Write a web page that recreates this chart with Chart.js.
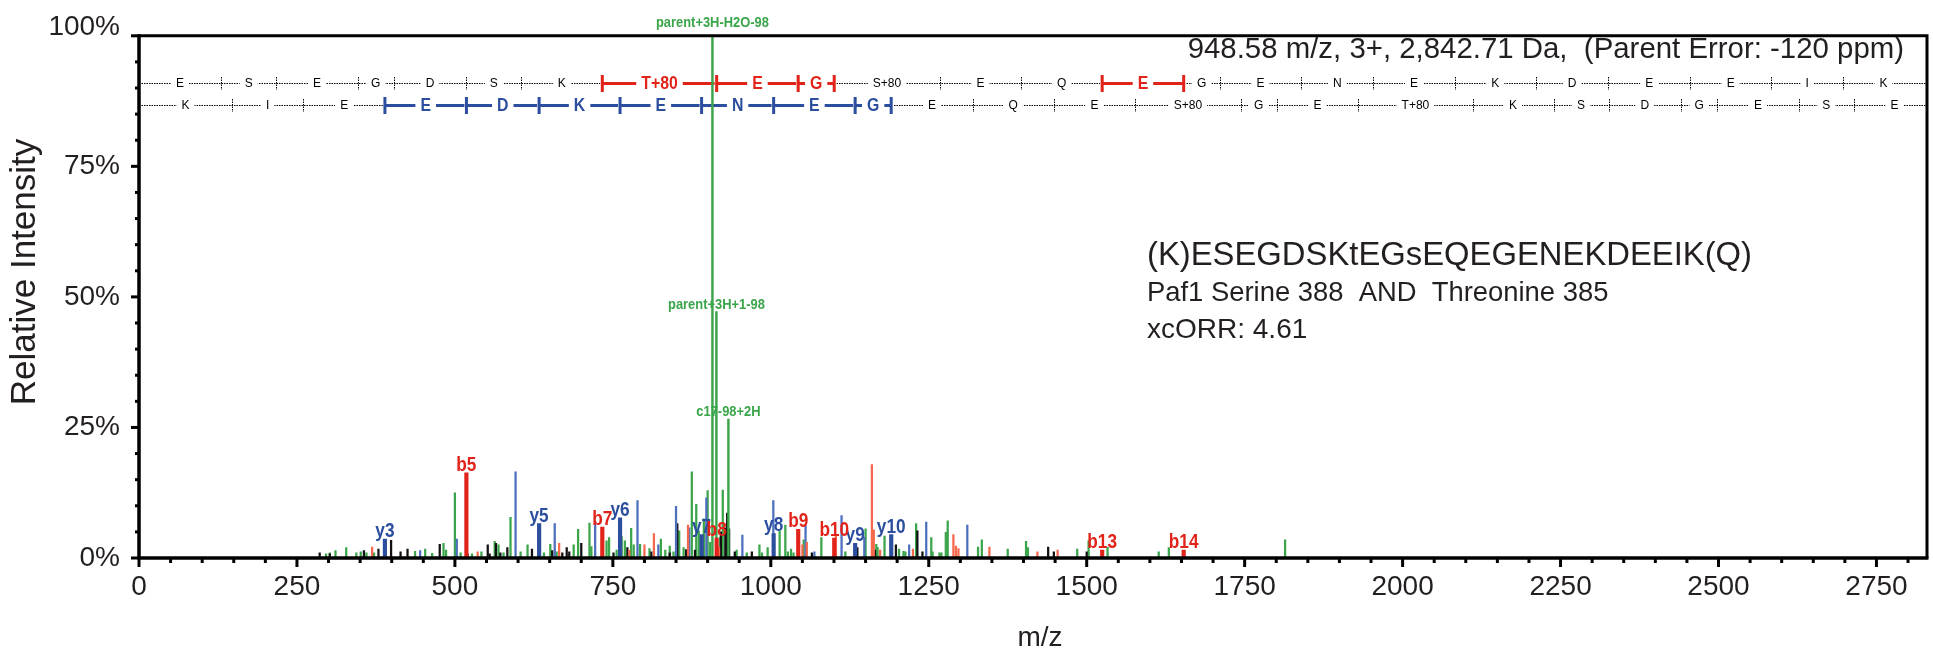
<!DOCTYPE html>
<html><head><meta charset="utf-8">
<script src="https://cdn.jsdelivr.net/npm/chart.js@4.4.1/dist/chart.umd.min.js"></script>
<style>html,body{margin:0;padding:0;background:#fff}#wrap{width:1933px;height:654px}</style>
</head><body><div id="wrap"><canvas id="c" width="1933" height="654"></canvas></div>
<script>
// ---------------- data ----------------
const xTickValues = [0,250,500,750,1000,1250,1500,1750,2000,2250,2500,2750];
const yTickValues = [0,25,50,75,100];
const xTitle = 'm/z';
const yTitle = 'Relative Intensity';

const greenMz  = [296,302,311,328,344,351,360,372,437,453,464,482,486,500,509,527,542,563,569,577,588,604,615,641,651,661,688,695,713,716,740,744,756,764,769,779,783,793,808,826,833,840,846,855,862,875,882,886,894,900,904,920,924,946,962,982,986,995,1014,1023,1027,1032,1036,1044,1052,1080,1118,1150,1167,1169,1180,1203,1210,1213,1230,1254,1256,1267,1270,1277,1280,1328,1334,1375,1404,1407,1485,1503,1533,1614,1630,1814];
const greenInt = [0.8,1.0,1.4,2.0,1.0,1.2,1.0,1.0,1.3,1.7,0.9,2.8,1.5,12.5,1.0,0.8,1.2,3.2,2.5,1.0,7.8,1.2,2.5,1.0,2.6,1.2,2.5,5.5,6.7,2.2,3.3,3.9,1.5,4.1,3.3,5.7,2.5,2.6,1.8,3.6,1.5,2.3,1.2,5.2,2.0,16.5,10.3,5.2,7.5,12.9,3.0,4.0,13.0,1.5,1.0,2.5,1.0,2.0,5.2,6.3,1.2,1.7,1.0,2.1,3.5,3.9,1.2,5.6,2.6,2.0,4.2,1.7,1.3,1.2,6.6,3.9,1.2,1.0,1.0,4.9,7.1,2.1,3.5,1.7,3.2,2.0,1.7,3.3,2.1,1.2,2.0,3.5];

const blackMz  = [286,302,356,379,399,414,425,476,520,552,555,565,572,583,622,654,670,677,681,700,751,773,811,840,852,866,880,921,928,931,934,943,970,1065,1137,1165,1198,1232,1240,1439,1448,1500];
const blackInt = [1.0,0.8,1.4,1.7,3.4,1.2,1.7,2.6,0.8,2.5,0.8,2.8,1.0,2.0,1.7,1.4,1.0,2.0,1.2,2.8,1.0,2.0,1.2,1.0,6.6,1.6,1.5,5.0,5.8,8.6,5.6,1.2,1.2,1.0,2.0,1.5,2.5,5.2,1.2,2.1,1.2,1.2];

const blueMz   = [445,503,596,658,722,789,822,850,871,898,955,1004,1055,1069,1112,1148,1219,1246,1311];
const blueInt  = [1.4,3.6,16.5,6.6,7.0,11.0,2.5,9.9,5.8,11.5,4.4,11.0,6.2,1.2,8.1,4.0,2.5,6.9,6.3];

const salmonMz  = [369,536,665,776,800,815,869,918,1050,1057,1103,1160,1163,1173,1225,1289,1293,1297,1346,1422,1454];
const salmonInt = [2.1,1.2,2.8,1.5,2.5,4.7,6.3,2.1,2.5,3.0,4.3,17.9,5.4,1.5,1.7,4.5,2.3,1.8,2.1,1.2,1.5];

const bIonLabels = ['b5','b7','b8','b9','b10','b13','b14'];
const bIonMz     = [518.2,733.3,914.3,1043.4,1100.4,1524.5,1653.5];
const bIonInt    = [16.3,5.9,3.8,5.5,3.8,1.5,1.5];

const yIonLabels = ['y3','y5','y6','y7','y8','y9','y10'];
const yIonMz     = [389.2,633.3,761.4,890.5,1004.5,1133.5,1190.6];
const yIonInt    = [3.6,6.6,7.7,4.5,4.7,2.8,4.5];

const annotLabels = ['parent+3H-H2O-98','parent+3H+1-98','c17-98+2H'];
const annotMz     = [907.6,913.9,932.9];
const annotInt    = [100,47.2,26.6];

// fragment ladders (sequence coverage)
const bLadderResidues = ['E','S','E','G','D','S','K','T+80','E','G','S+80','E','Q','E','G','E','N','E','K','D','E','E','I','K'];
const bLadderEdges = [0,130.05,217.08,346.12,403.14,518.17,605.20,733.30,914.31,1043.35,1100.37,1267.37,1396.41,1524.47,1653.51,1710.54,1839.58,1953.62,2082.66,2210.76,2325.79,2454.83,2583.87,2696.96,2825.05];
const bLadderMatched = [7,8,9,13];

const yLadderResidues = ['K','I','E','E','D','K','E','N','E','G','E','Q','E','S+80','G','E','T+80','K','S','D','G','E','S','E'];
const yLadderEdges = [0,147.11,260.20,389.24,518.28,633.31,761.40,890.45,1004.49,1133.53,1190.55,1319.60,1447.65,1576.70,1743.69,1800.72,1929.76,2110.77,2238.87,2325.90,2440.93,2497.95,2626.99,2714.02,2843.07];
const yLadderMatched = [3,4,5,6,7,8,9];

const headerText = '948.58 m/z, 3+, 2,842.71 Da,  (Parent Error: -120 ppm)';
const infoLines = ['(K)ESEGDSKtEGsEQEGENEKDEEIK(Q)','Paf1 Serine 388  AND  Threonine 385','xcORR: 4.61'];

// ---------------- styling ----------------
const FONT = '"Liberation Sans", Arial, Helvetica, sans-serif';
const TXT = '#231f20';
const GREEN = '#3aa54a', BLACK = '#111111', BLUE_L = '#4d6fbe', SALMON = '#f4694e';
const RED = '#e2231a', BLUE = '#2c4e9f';
const ROW_LEVELS = [91, 86.7];          // ladder rows, in % of the y scale
const ANNOT_LIFT = [9, 3, 3];           // px gap between peak top and its label

function pts(mz, it){ return mz.map((m,i)=>({x:m,y:it[i]})); }
function ds(label, mz, it, color, w){
  return {label, data:pts(mz,it), backgroundColor:color, borderWidth:0, barThickness:w, grouped:false};
}

function condText(ctx, t, x, y, sx){
  ctx.save(); ctx.translate(x,y); ctx.scale(sx,1); ctx.fillText(t,0,0); ctx.restore();
}

function drawRow(ctx, a, xs, py, res, edges, matched, col){
  ctx.save();
  ctx.beginPath(); ctx.rect(a.left, 0, a.right-a.left, a.bottom); ctx.clip();
  ctx.strokeStyle = '#000'; ctx.lineWidth = 1;
  ctx.setLineDash([1.5,1]);
  ctx.beginPath(); ctx.moveTo(a.left, py+0.5); ctx.lineTo(a.right, py+0.5); ctx.stroke();
  for (let i=1;i<edges.length-1;i++){
    const px = Math.round(xs.getPixelForValue(edges[i]))+0.5;
    ctx.beginPath(); ctx.moveTo(px, py-6); ctx.lineTo(px, py+7); ctx.stroke();
  }
  ctx.setLineDash([]);
  matched.forEach(i=>{
    const x1 = xs.getPixelForValue(edges[i]), x2 = xs.getPixelForValue(edges[i+1]);
    ctx.fillStyle = '#fff'; ctx.fillRect(x1-2, py-9, x2-x1+4, 19);
    ctx.strokeStyle = col; ctx.lineWidth = 3;
    ctx.beginPath(); ctx.moveTo(x1, py+0.5); ctx.lineTo(x2, py+0.5); ctx.stroke();
    [x1,x2].forEach(px=>{ ctx.beginPath(); ctx.moveTo(px, py-8); ctx.lineTo(px, py+9); ctx.stroke(); });
  });
  ctx.textAlign = 'center'; ctx.textBaseline = 'middle';
  res.forEach((r,i)=>{
    const cx = xs.getPixelForValue((edges[i]+edges[i+1])/2);
    if (matched.includes(i)){
      ctx.font = 'bold 18px ' + FONT;
      const w = ctx.measureText(r).width*0.88;
      ctx.fillStyle = '#fff'; ctx.fillRect(cx-w/2-5, py-9, w+10, 19);
      ctx.fillStyle = col; condText(ctx, r, cx, py+1, 0.88);
    } else {
      ctx.font = '12px ' + FONT;
      const w = ctx.measureText(r).width;
      ctx.fillStyle = '#fff'; ctx.fillRect(cx-w/2-5, py-6, w+10, 13);
      ctx.fillStyle = '#000'; ctx.fillText(r, cx, py+1);
    }
  });
  ctx.restore();
}

const ladderPlugin = {
  id:'ladder',
  beforeDatasetsDraw(chart){
    const {ctx, chartArea:a, scales:{x,y}} = chart;
    drawRow(ctx, a, x, Math.round(y.getPixelForValue(ROW_LEVELS[0])), bLadderResidues, bLadderEdges, bLadderMatched, RED);
    drawRow(ctx, a, x, Math.round(y.getPixelForValue(ROW_LEVELS[1])), yLadderResidues, yLadderEdges, yLadderMatched, BLUE);
  }
};

const labelPlugin = {
  id:'labels',
  afterDatasetsDraw(chart){
    const {ctx, chartArea:a, scales:{x,y}} = chart;
    ctx.save();
    ctx.textAlign = 'center'; ctx.textBaseline = 'alphabetic';
    ctx.font = 'bold 21px ' + FONT;
    ctx.fillStyle = BLUE;
    yIonLabels.forEach((l,i)=> condText(ctx, l, x.getPixelForValue(yIonMz[i]), y.getPixelForValue(yIonInt[i])-2, 0.82));
    ctx.fillStyle = RED;
    bIonLabels.forEach((l,i)=> condText(ctx, l, x.getPixelForValue(bIonMz[i]), y.getPixelForValue(bIonInt[i])-2, 0.82));
    ctx.font = 'bold 15px ' + FONT;
    ctx.fillStyle = GREEN;
    annotLabels.forEach((l,i)=> condText(ctx, l, x.getPixelForValue(annotMz[i]), y.getPixelForValue(annotInt[i])-ANNOT_LIFT[i], 0.86));
    // header & info text
    ctx.fillStyle = TXT;
    ctx.textBaseline = 'middle';
    ctx.textAlign = 'right';
    ctx.font = '29.4px ' + FONT;
    ctx.fillText(headerText, 1904, 50);
    ctx.textAlign = 'left';
    ctx.font = '32.8px ' + FONT;
    ctx.fillText(infoLines[0], 1147, 256);
    ctx.font = '27.4px ' + FONT;
    ctx.fillText(infoLines[1], 1147, 293);
    ctx.font = '28px ' + FONT;
    ctx.fillText(infoLines[2], 1147, 330);
    // top tick label sits just above the frame
    ctx.textAlign = 'right'; ctx.textBaseline = 'middle';
    ctx.fillText(yTickValues[yTickValues.length-1] + '%', a.left - 19, y.getPixelForValue(100) - 9);
    // axis titles
    ctx.textAlign = 'center'; ctx.textBaseline = 'alphabetic';
    ctx.font = '28px ' + FONT;
    ctx.fillText(xTitle, 1040, 646);
    ctx.save();
    ctx.translate(35, 272); ctx.rotate(-Math.PI/2);
    ctx.font = '35px ' + FONT;
    ctx.fillText(yTitle, 0, 0);
    ctx.restore();
    ctx.restore();
  }
};

const axisPlugin = {
  id:'axes',
  afterDraw(chart){
    const {ctx, chartArea:a, scales:{x,y}} = chart;
    ctx.save();
    ctx.strokeStyle = '#000'; ctx.lineCap = 'butt';
    ctx.lineWidth = 3;
    for (let v=0; v<=x.max; v+=50){
      const px = x.getPixelForValue(v), len = (v%250===0)?9:5;
      ctx.beginPath(); ctx.moveTo(px, a.bottom); ctx.lineTo(px, a.bottom+len); ctx.stroke();
    }
    for (let v=0; v<=100; v+=5){
      const py = y.getPixelForValue(v), len = (v%25===0)?8:4;
      ctx.beginPath(); ctx.moveTo(a.left, py); ctx.lineTo(a.left-len, py); ctx.stroke();
    }
    ctx.lineWidth = 3;
    ctx.beginPath(); ctx.moveTo(a.left, a.top); ctx.lineTo(a.right, a.top); ctx.lineTo(a.right, a.bottom); ctx.stroke();
    ctx.lineWidth = 3.5;
    ctx.beginPath(); ctx.moveTo(a.left-1.5, a.bottom); ctx.lineTo(a.right+1.5, a.bottom); ctx.stroke();
    ctx.beginPath(); ctx.moveTo(a.left, a.top-1.5); ctx.lineTo(a.left, a.bottom); ctx.stroke();
    ctx.restore();
  }
};

new Chart(document.getElementById('c').getContext('2d'), {
  type:'bar',
  data:{datasets:[
    ds('y ions', yIonMz, yIonInt, BLUE, 3.5),
    ds('b ions', bIonMz, bIonInt, RED, 3.5),
    ds('annotated', annotMz, annotInt, GREEN, 1.8),
    ds('other red', salmonMz, salmonInt, SALMON, 1.6),
    ds('other blue', blueMz, blueInt, BLUE_L, 1.6),
    ds('unassigned', blackMz, blackInt, BLACK, 1.6),
    ds('neutral loss', greenMz, greenInt, GREEN, 1.6)
  ]},
  options:{
    responsive:false, animation:false, devicePixelRatio:1,
    layout:{padding:{top:29,right:6,left:0,bottom:0}},
    plugins:{legend:{display:false}, tooltip:{enabled:false}},
    scales:{
      x:{type:'linear', min:0, max:2830, offset:false,
        grid:{display:false, drawTicks:false}, border:{display:false},
        afterBuildTicks(s){ s.ticks = xTickValues.map(v=>({value:v})); },
        ticks:{autoSkip:false, maxRotation:0, minRotation:0, padding:12, color:TXT, font:{family:FONT,size:28}, callback:v=>String(v)},
        title:{display:false, text:xTitle},
        afterFit(s){ s.height = 96; }
      },
      y:{min:0, max:100,
        grid:{display:false, drawTicks:false}, border:{display:false},
        afterBuildTicks(s){ s.ticks = yTickValues.map(v=>({value:v})); },
        ticks:{padding:19, color:TXT, font:{family:FONT,size:28}, callback:v=> v===100 ? '' : v+'%'},
        title:{display:false, text:yTitle},
        afterFit(s){ s.width = 139; }
      }
    }
  },
  plugins:[ladderPlugin, labelPlugin, axisPlugin]
});
</script>
</body></html>
